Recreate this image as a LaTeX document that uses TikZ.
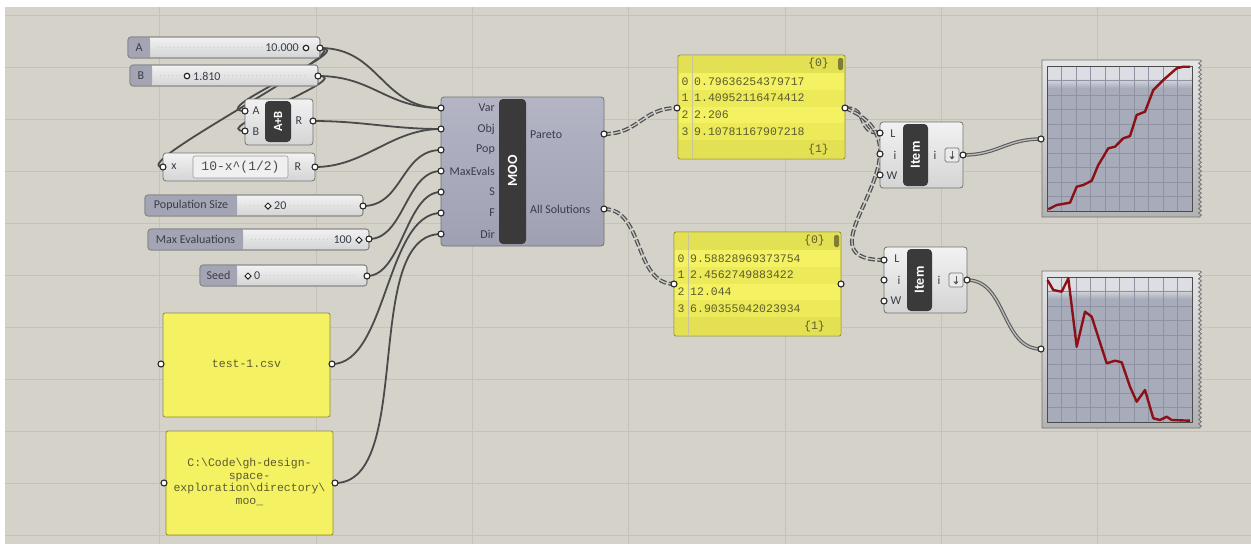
\documentclass[tikz,border=0pt]{standalone}
\usepackage{fontspec}
\setmainfont{Carlito}
\newfontfamily\monofont{Liberation Mono}
\usetikzlibrary{decorations.pathmorphing,shapes.geometric,arrows.meta}
\definecolor{canvas}{HTML}{D5D2CA}
\definecolor{gridc}{HTML}{C5C2BA}
\definecolor{wirec}{HTML}{4A4A4A}
\definecolor{treeout}{HTML}{505050}
\definecolor{treein}{HTML}{C9C9C9}
\definecolor{listout}{HTML}{5C5C5C}
\definecolor{listin}{HTML}{BDBDBD}
\definecolor{labtext}{HTML}{3B3C4A}
\definecolor{compt}{HTML}{F2F2F2}
\definecolor{compb}{HTML}{D4D4D4}
\definecolor{moot}{HTML}{B3B5C5}
\definecolor{moob}{HTML}{9FA1B3}
\definecolor{barc}{HTML}{3A3A3A}
\definecolor{sliderlab}{HTML}{A3A5B4}
\definecolor{panely}{HTML}{F4F262}
\definecolor{panelrow}{HTML}{ECEA58}
\definecolor{panelhead}{HTML}{E3E053}
\definecolor{paneltext}{HTML}{5C5B2E}
\definecolor{panelline}{HTML}{8E8B3A}
\definecolor{plotbg}{HTML}{A8ACBA}
\definecolor{plotgrid}{HTML}{8E92A3}
\definecolor{plottop}{HTML}{DDDEE3}
\definecolor{plotline}{HTML}{8C1015}
\tikzset{
  wire/.style={draw=wirec, line width=1.8pt},
  treewire/.style={draw=treeout, double=treein, line width=1.3pt, double distance=1.3pt, dash pattern=on 7pt off 2.5pt},
  listwire/.style={draw=listout, double=listin, line width=1.1pt, double distance=1.3pt},
  port/.style={circle, draw=black!85, fill=white, line width=1.1pt, inner sep=0pt, minimum size=6pt},
  compbox/.style={draw=black!55, line width=0.8pt, rounded corners=3pt, top color=compt, bottom color=compb},
  moobox/.style={compbox, top color=moot, bottom color=moob},
  namebar/.style={fill=barc, rounded corners=4pt},
  barname/.style={text=white, font=\bfseries\fontsize{14}{14}\selectfont, rotate=90, inner sep=0pt},
  lbl/.style={text=labtext, font=\fontsize{12}{13}\selectfont, inner sep=0pt},
  sliderbox/.style={draw=black!50, line width=0.7pt, rounded corners=3pt, top color=compt, bottom color=compb},
  sliderticks/.style={draw=black!20, line width=0.6pt, dash pattern=on 0.6pt off 3.4pt},
  knob/.style={circle, draw=black!85, line width=1.2pt, fill=white, inner sep=0pt, minimum size=5.5pt},
  iknob/.style={diamond, draw=black!85, line width=1pt, fill=white, inner sep=0pt, minimum size=6.5pt},
  panelbox/.style={draw=panelline, line width=0.8pt, fill=panely, rounded corners=2pt},
  paneltxt/.style={text=paneltext, font=\monofont\fontsize{11.5}{12.5}\selectfont, inner sep=0pt},
  plotframe/.style={draw=black!55, line width=0.8pt, top color=black!10, bottom color=black!30,
    decoration={zigzag, segment length=4.4pt, amplitude=1.4pt}},
  plotarea/.style={fill=plotbg, draw=black!70, line width=0.9pt},
  plotgridline/.style={draw=plotgrid, line width=0.5pt},
  plotcurve/.style={draw=plotline, line width=2.4pt, line join=round}
}
\begin{document}
\begin{tikzpicture}[x=1pt,y=-1pt]
  \useasboundingbox (0,0) rectangle (1251,544);
  \fill[white] (0,0) rectangle (1251,544);
  \fill[canvas] (5,7) rectangle (1251,544);
  \foreach \gx in {159,316,472,628,785,941,1097}
    \draw[gridc, line width=0.7pt] (\gx,7) -- (\gx,544);
  \foreach \gy in {15,67,...,535}
    \draw[gridc, line width=0.7pt] (5,\gy) -- (1251,\gy);

  \foreach \n/\x/\y in {
    A-out/320/48, B-out/318/76, add-a/245/111, add-b/245/131, add-r/313/121,
    expr-x/163/167, expr-r/315/167, pop-out/363/206, max-out/369/239, seed-out/367/276,
    csv-in/161/364, csv-out/332/364, dir-in/164/483, dir-out/335/483,
    moo-var/441/108, moo-obj/441/129, moo-pop/441/150, moo-max/441/171,
    moo-s/441/192, moo-f/441/213, moo-dir/441/234, moo-pareto/604/134, moo-all/604/209,
    par-in/677/108, par-out/845/108, all-in/674/284, all-out/841/284,
    itemA-L/880/133, itemA-i/880/154, itemA-W/880/175, itemA-out/963/155,
    itemB-L/884/260, itemB-i/884/280, itemB-W/884/301, itemB-out/967/280,
    plotA-in/1041/139, plotB-in/1041/349
  }{
    \coordinate (\n) at (\x,\y);
  }

  \draw[wire] (A-out) .. controls +(60,0) and +(-60,0) .. (moo-var);
  \draw[wire] (B-out) .. controls +(55,0) and +(-55,0) .. (moo-var);
  \draw[wire] (add-r) .. controls +(50,0) and +(-50,0) .. (moo-obj);
  \draw[wire] (expr-r) .. controls +(50,0) and +(-50,0) .. (moo-obj);
  \draw[wire] (pop-out) .. controls +(40,0) and +(-40,0) .. (moo-pop);
  \draw[wire] (max-out) .. controls +(35,0) and +(-35,0) .. (moo-max);
  \draw[wire] (seed-out) .. controls +(35,0) and +(-35,0) .. (moo-s);
  \draw[wire] (csv-out) .. controls +(55,0) and +(-55,0) .. (moo-f);
  \draw[wire] (dir-out) .. controls +(80,0) and +(-80,0) .. (moo-dir);
  \draw[wire] (A-out) .. controls +(42,0) and +(-42,0) .. (add-a);
  \draw[wire] (A-out) .. controls +(40,0) and +(-40,0) .. (expr-x);
  \draw[wire] (B-out) .. controls +(40,0) and +(-40,0) .. (add-b);
  \draw[treewire] (moo-pareto) .. controls +(35,0) and +(-35,0) .. (par-in);
  \draw[treewire] (moo-all) .. controls +(40,0) and +(-40,0) .. (all-in);
  \draw[treewire] (par-out) .. controls +(25,0) and +(-25,0) .. (itemA-L);
  \draw[treewire] (par-out) .. controls +(100,40) and +(-95,0) .. (itemB-L);
  \draw[listwire] (itemA-out) .. controls +(35,0) and +(-35,0) .. (plotA-in);
  \draw[listwire] (itemB-out) .. controls +(40,0) and +(-40,0) .. (plotB-in);

  \foreach \n/\xa/\ya/\xl/\xb/\lab in {
    A/128/37/150/320/A, B/130/65/152/318/B, pop/145/195/237/363/Population Size,
    max/148/229/243/369/Max Evaluations, seed/200/265/237/367/Seed
  }{
    \draw[sliderbox] (\xa,\ya) rectangle (\xb,{\ya+21});
    \fill[sliderlab, rounded corners=3pt] (\xa,\ya) rectangle (\xl,{\ya+21});
    \fill[sliderlab] ({\xl-4},\ya) rectangle (\xl,{\ya+21});
    \draw[black!50, line width=0.7pt, rounded corners=3pt] (\xa,\ya) rectangle (\xb,{\ya+21});
    \draw[sliderticks] ({\xl+8},{\ya+10.5}) -- ({\xb-10},{\ya+10.5});
    \node[lbl] (\n-name) at ({(\xa+\xl)/2},{\ya+10.5}) {\lab};
  }
  \node[lbl, anchor=east] (A-val) at (299,48) {10.000};
  \node[knob] (A-knob) at (306,48) {};
  \node[knob] (B-knob) at (187,76) {};
  \node[lbl, anchor=west] (B-val) at (193,76) {1.810};
  \node[iknob] (pop-knob) at (268,206) {};
  \node[lbl, anchor=west] (pop-val) at (274,206) {20};
  \node[lbl, anchor=east] (max-val) at (352,240) {100};
  \node[iknob] (max-knob) at (359,240) {};
  \node[iknob] (seed-knob) at (248,276) {};
  \node[lbl, anchor=west] (seed-val) at (254,276) {0};

  \draw[compbox] (245,99) rectangle (313,145);
  \fill[namebar] (265,101) rectangle (291,142);
  \node[barname, font=\bfseries\fontsize{12.5}{12.5}\selectfont] (add-name) at (278,121.5) {A+B};
  \node[lbl] (add-la) at (256,111) {A};
  \node[lbl] (add-lb) at (256,132) {B};
  \node[lbl] (add-lr) at (299,121) {R};

  \draw[compbox] (163,153) rectangle (315,181);
  \draw[black!40, line width=0.6pt, rounded corners=2pt, fill=black!6] (193,156) rectangle (288,178);
  \node[lbl] (expr-lx) at (174,167) {x};
  \node[text=black!70, font=\monofont\fontsize{13}{13}\selectfont, inner sep=0pt] (expr-f) at (240.5,167) {10-x\textasciicircum(1/2)};
  \node[lbl] (expr-lr) at (298,167) {R};

  \draw[moobox] (441,97) rectangle (604,246);
  \fill[namebar] (499,99) rectangle (526,244);
  \node[barname] (moo-name) at (512.5,171) {MOO};
  \foreach \p/\t in {var/Var, obj/Obj, pop/Pop, max/MaxEvals, s/S, f/F, dir/Dir}
    \node[lbl, anchor=east] (moo-l\p) at ([xshift=54pt]moo-\p) {\t};
  \node[lbl, anchor=west] (moo-lpareto) at (530,135) {Pareto};
  \node[lbl, anchor=west] (moo-lall) at (530,209) {All Solutions};

  \foreach \n/\px/\py in {par/678/55, all/674/232}{
    \begin{scope}[shift={(\px,\py)}]
      \draw[panelbox] (0,0) rectangle (167,104);
      \fill[panelhead] (1,1) rectangle (166,18);
      \fill[panelrow] (1,34.75) rectangle (166,51.5);
      \fill[panelrow] (1,68.25) rectangle (166,85);
      \fill[panelhead] (1,85) rectangle (166,103);
      \draw[panelline!50, line width=0.5pt] (14,1) -- (14,103);
      \fill[panelline!90!black, rounded corners=1.5pt] (160,3) rectangle (165,15);
      \node[paneltxt, anchor=east] (\n-head) at (151,9) {\{0\}};
      \node[paneltxt, anchor=east] (\n-foot) at (151,95) {\{1\}};
    \end{scope}
  }
  \foreach \r/\v in {0/0.79636254379717, 1/1.40952116474412, 2/2.206, 3/9.10781167907218}{
    \node[paneltxt] (par-i\r) at (685,{81.4+16.75*\r}) {\r};
    \node[paneltxt, anchor=west] (par-v\r) at (694,{81.4+16.75*\r}) {\v};
  }
  \foreach \r/\v in {0/9.58828969373754, 1/2.4562749883422, 2/12.044, 3/6.90355042023934}{
    \node[paneltxt] (all-i\r) at (681,{258.4+16.75*\r}) {\r};
    \node[paneltxt, anchor=west] (all-v\r) at (690,{258.4+16.75*\r}) {\v};
  }

  \draw[panelbox] (163,313) rectangle (330,417);
  \node[paneltxt] (csv-text) at (246.5,364) {test-1.csv};
  \draw[panelbox] (166,431) rectangle (333,535);
  \node[paneltxt, align=center] (dir-text) at (249.5,482) {C:\textbackslash Code\textbackslash gh-design-\\space-\\exploration\textbackslash directory\textbackslash\\moo\_};

  \foreach \n/\xa/\ya/\xb in {itemA/880/122/963, itemB/884/247/967}{
    \draw[compbox] (\xa,\ya) rectangle (\xb,{\ya+66});
    \fill[namebar] ({\xa+23},{\ya+2}) rectangle ({\xa+48},{\ya+64});
    \node[barname] (\n-name) at ({\xa+35.5},{\ya+33}) {Item};
    \node[lbl] (\n-lL) at ({\xa+13},{\ya+11.5}) {L};
    \node[lbl] (\n-li) at ({\xa+15},{\ya+33}) {i};
    \node[lbl] (\n-lW) at ({\xa+12},{\ya+53.5}) {W};
    \node[lbl] (\n-lo) at ({\xa+55},{\ya+33}) {i};
    \draw[black!55, fill=black!8, line width=0.7pt, rounded corners=1.5pt] ({\xa+65},{\ya+26}) rectangle ({\xa+79},{\ya+40});
    \draw[black!65, line width=1pt, -{Triangle[length=3pt,width=5pt]}] ({\xa+72},{\ya+28.5}) -- ({\xa+72},{\ya+37.5});
  }

  \foreach \n/\py in {plotA/60, plotB/271}{
    \begin{scope}[shift={(1042,\py)}]
      \draw[plotframe] (0,0) -- (158,0) decorate {-- (158,157)} -- (0,157) -- cycle;
      \draw[plotarea] (5,6) rectangle (150,151);
      \fill[plottop] (5.5,6.5) rectangle (149.5,18);
      \shade[top color=plottop, bottom color=plotbg] (5.5,18) rectangle (149.5,28);
      \foreach \k in {1,...,9}{
        \draw[plotgridline] ({5+14.5*\k},6.5) -- ({5+14.5*\k},150.5);
        \draw[plotgridline] (5.5,{6+14.5*\k}) -- (149.5,{6+14.5*\k});
      }
      \draw[black!70, line width=0.9pt] (5,6) rectangle (150,151);
    \end{scope}
  }
  \begin{scope}[shift={(1042,60)}]
    \draw[plotcurve] plot coordinates {(6.3,149.3) (14.7,145) (28,142.7) (34.7,126.7) (41.3,125) (49.7,120.7) (56.3,105) (66.3,88.3) (73,86.7) (81.3,78.3) (88,76) (94.7,55) (103,51.7) (111.3,30) (121.3,20) (134.7,8.3) (141.3,6.7) (148,6.7)};
  \end{scope}
  \begin{scope}[shift={(1042,271)}]
    \draw[plotcurve] plot coordinates {(5.5,9) (11.3,19) (19.7,20.7) (26.3,7.3) (34.7,75.7) (43,40.7) (49.7,45.7) (64.7,92.3) (73,89.7) (79.7,91.3) (88,115.7) (94.7,130.7) (103,119) (111.3,147.3) (118,149) (124.7,145.7) (129.7,149) (148,149.7)};
  \end{scope}

  \foreach \p in {A-out, B-out, add-a, add-b, add-r, expr-x, expr-r, pop-out, max-out, seed-out,
    csv-in, csv-out, dir-in, dir-out, moo-var, moo-obj, moo-pop, moo-max, moo-s, moo-f, moo-dir,
    moo-pareto, moo-all, par-in, par-out, all-in, all-out, itemA-L, itemA-i, itemA-W, itemA-out,
    itemB-L, itemB-i, itemB-W, itemB-out, plotA-in, plotB-in}
    \node[port] at (\p) {};
\end{tikzpicture}
\end{document}
